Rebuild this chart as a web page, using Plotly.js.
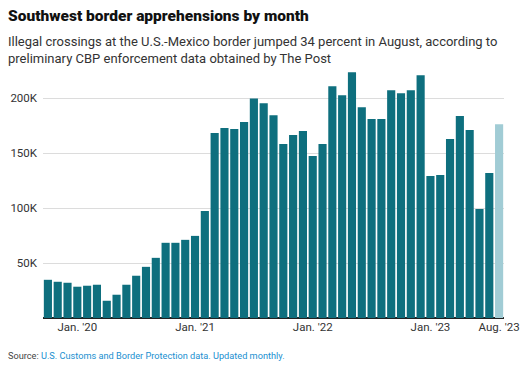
<!DOCTYPE html>
<html>
<head>
<meta charset="utf-8">
<script src="https://cdn.plot.ly/plotly-3.0.1.min.js"></script>
<style>
html,body{margin:0;padding:0;background:#fff;}
#chart{width:527px;height:375px;}
</style>
</head>
<body>
<div id="chart"></div>
<script>
const months = ["2019-10","2019-11","2019-12",
  "2020-01","2020-02","2020-03","2020-04","2020-05","2020-06","2020-07","2020-08","2020-09","2020-10","2020-11","2020-12",
  "2021-01","2021-02","2021-03","2021-04","2021-05","2021-06","2021-07","2021-08","2021-09","2021-10","2021-11","2021-12",
  "2022-01","2022-02","2022-03","2022-04","2022-05","2022-06","2022-07","2022-08","2022-09","2022-10","2022-11","2022-12",
  "2023-01","2023-02","2023-03","2023-04","2023-05","2023-06","2023-07","2023-08"];
const apprehensions = [34800,33000,32100,
  28500,29400,30300,15700,21200,30300,38500,46600,54800,68500,68500,71200,
  74800,97500,168500,173000,172100,178500,200000,195700,184800,158500,166600,170300,
  147500,158500,211200,203000,223900,192000,181200,181200,207500,204800,207500,221200,
  129400,130300,163000,183900,171200,99400,132100,176600];
const preliminary = [false,false,false,false,false,false,false,false,false,false,false,false,false,false,false,
  false,false,false,false,false,false,false,false,false,false,false,false,false,false,false,false,false,false,
  false,false,false,false,false,false,false,false,false,false,false,false,false,true];
const tickMonths = ["2020-01","2021-01","2022-01","2023-01","2023-08"];
const tickLabels = ["Jan. '20","Jan. '21","Jan. '22","Jan. '23","Aug. '23"];
const yTicks = [50000,100000,150000,200000];
const yTickLabels = ["50K","100K","150K","200K"];

const colorMain = "#0e6f7e";
const colorPrelim = "#a1ccd5";
const font = "Roboto, 'Noto Sans', sans-serif";

const trace = {
  type: "bar",
  x: months,
  y: apprehensions,
  marker: {color: preliminary.map(p => p ? colorPrelim : colorMain), line: {width: 0}},
  hoverinfo: "x+y"
};

const layout = {
  width: 527, height: 375,
  margin: {l: 43, r: 23, t: 71, b: 57},
  paper_bgcolor: "#fff", plot_bgcolor: "#fff",
  bargap: 0.17,
  showlegend: false,
  font: {family: font, color: "#333"},
  xaxis: {
    type: "category",
    tickvals: tickMonths, ticktext: tickLabels,
    showgrid: false, zeroline: false,
    ticks: "", ticklen: 0,
    tickfont: {size: 11.5, color: "#333", family: font},
    showline: false,
    fixedrange: true
  },
  yaxis: {
    range: [0, 225000],
    tickvals: yTicks, ticktext: yTickLabels,
    showgrid: true, gridcolor: "#dcdcdc", gridwidth: 1,
    zeroline: true, zerolinecolor: "#222", zerolinewidth: 1.5,
    ticks: "", ticklabelstandoff: 5,
    tickfont: {size: 11.5, color: "#333", family: font},
    showline: false,
    fixedrange: true
  },
  annotations: [
    {xref: "paper", yref: "paper", x: -0.08, y: 1.0, xanchor: "left", yanchor: "bottom",
     yshift: 44, text: "Southwest border apprehensions by month", showarrow: false,
     font: {size: 15.5, color: "#111", family: font, weight: 900}},
    {xref: "paper", yref: "paper", x: -0.08, y: 1.0, xanchor: "left", yanchor: "bottom",
     yshift: 3, align: "left",
     text: "Illegal crossings at the U.S.-Mexico border jumped 34 percent in August, according to<br>preliminary CBP enforcement data obtained by The Post",
     showarrow: false, font: {size: 13, color: "#333", family: font}},
    {xref: "paper", yref: "paper", x: -0.08, y: 0, xanchor: "left", yanchor: "top",
     yshift: -30,
     text: "Source: <span style='color:#1a8fd0'>U.S. Customs and Border Protection data. Updated monthly.</span>",
     showarrow: false, font: {size: 9.2, color: "#444", family: font}}
  ]
};

Plotly.newPlot("chart", [trace], layout, {displayModeBar: false, staticPlot: true});
</script>
</body>
</html>
